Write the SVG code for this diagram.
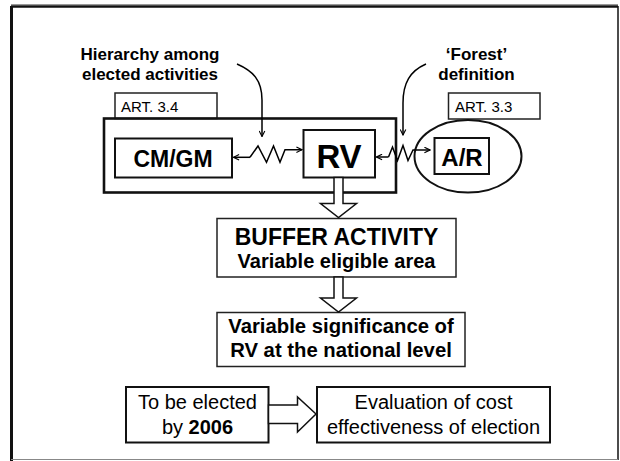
<svg xmlns="http://www.w3.org/2000/svg" width="620" height="461" viewBox="0 0 620 461">
  <defs>
    <style>
      text { font-family: "Liberation Sans", Arial, sans-serif; fill: #000; }
      .b { font-weight: bold; }
      .box { fill: #fff; stroke: #111; stroke-width: 2; }
      .thin { fill: #fff; stroke: #222; stroke-width: 1.5; }
      .wire { fill: none; stroke: #000; stroke-width: 1.5; }
      .hollow { fill: #fff; stroke: #111; stroke-width: 1.5; stroke-linejoin: miter; }
    </style>
    <marker id="tip" viewBox="0 0 10 10" refX="9" refY="5" markerWidth="7" markerHeight="7" markerUnits="userSpaceOnUse" orient="auto-start-reverse">
      <path d="M1,1 L9,5 L1,9" fill="none" stroke="#000" stroke-width="1.6"/>
    </marker>
  </defs>

  <!-- page frame -->
  <rect x="0" y="0" width="620" height="461" fill="#fff"/>
  <line x1="11" y1="4.5" x2="618" y2="4.5" stroke="#999" stroke-width="1"/>
  <line x1="11" y1="6.5" x2="618" y2="6.5" stroke="#111" stroke-width="2.5"/>
  <line x1="11.5" y1="6" x2="11.5" y2="461" stroke="#111" stroke-width="3"/>
  <line x1="618" y1="6" x2="618" y2="460" stroke="#111" stroke-width="1.5"/>
  <line x1="11" y1="459.5" x2="618" y2="459.5" stroke="#888" stroke-width="1.2"/>

  <!-- annotations -->
  <g id="note-hierarchy">
    <text class="b" x="150" y="60" font-size="17" text-anchor="middle">Hierarchy among</text>
    <text class="b" x="150" y="80" font-size="17" text-anchor="middle">elected activities</text>
  </g>
  <g id="note-forest">
    <text class="b" x="476.5" y="60" font-size="17" text-anchor="middle">‘Forest’</text>
    <text class="b" x="476.5" y="80" font-size="17" text-anchor="middle">definition</text>
  </g>

  <!-- Article 3.4 group -->
  <g id="art34">
    <rect class="thin" x="115" y="93" width="102" height="25.5"/>
    <text x="121" y="112" font-size="15">ART. 3.4</text>
    <rect x="104" y="118.5" width="292" height="74" fill="none" stroke="#111" stroke-width="2.6"/>
  </g>

  <!-- Article 3.3 group -->
  <g id="art33">
    <rect class="thin" x="448.5" y="93" width="91.5" height="26"/>
    <text x="455" y="112" font-size="15">ART. 3.3</text>
    <ellipse cx="468" cy="156.3" rx="53.5" ry="36.3" fill="none" stroke="#111" stroke-width="2"/>
  </g>

  <g id="cmgm">
    <rect class="box" x="115" y="138.5" width="117" height="39"/>
    <text class="b" x="173" y="166.5" font-size="23" text-anchor="middle">CM/GM</text>
  </g>

  <g id="rv">
    <rect class="box" x="303.5" y="130" width="71.5" height="47.5"/>
    <text class="b" x="339" y="167.5" font-size="33" text-anchor="middle">RV</text>
  </g>

  <g id="ar">
    <rect class="box" x="434.5" y="138" width="54.5" height="36"/>
    <text class="b" x="462" y="165.5" font-size="24" text-anchor="middle">A/R</text>
  </g>

  <g id="buffer">
    <rect class="thin" x="217" y="218.5" width="239" height="58.5"/>
    <text class="b" x="336.5" y="245" font-size="23" text-anchor="middle">BUFFER ACTIVITY</text>
    <text class="b" x="336.5" y="267.5" font-size="20" text-anchor="middle">Variable eligible area</text>
  </g>

  <g id="significance">
    <rect class="thin" x="217" y="312.5" width="248" height="54"/>
    <text class="b" x="341" y="333" font-size="20.3" text-anchor="middle">Variable significance of</text>
    <text class="b" x="341" y="357" font-size="20.3" text-anchor="middle">RV at the national level</text>
  </g>

  <g id="deadline">
    <rect class="box" x="126" y="387" width="142.5" height="55.5"/>
    <text x="197.5" y="409" font-size="20" text-anchor="middle">To be elected</text>
    <text x="197.5" y="434" font-size="20" text-anchor="middle">by <tspan class="b">2006</tspan></text>
  </g>

  <g id="evaluation">
    <rect class="box" x="317" y="387" width="233" height="55.5"/>
    <text x="433.5" y="409" font-size="20" text-anchor="middle">Evaluation of cost</text>
    <text x="433.5" y="434" font-size="20" text-anchor="middle">effectiveness of election</text>
  </g>

  <!-- connectors -->
  <g id="connectors">
    <!-- spring links between activities -->
    <polyline class="wire" points="250,157.3 258,146 266.5,162.3 273.5,146 280,162.3 285,149.7 302,149.7" marker-end="url(#tip)"/>
    <line class="wire" x1="250" y1="157.3" x2="233.5" y2="157.3" marker-end="url(#tip)"/>
    <polyline class="wire" points="388.5,157 392.5,147 397.5,160.5 403,145.5 408,160.5 413,150 430,150" marker-end="url(#tip)"/>
    <line class="wire" x1="388.5" y1="157" x2="376.5" y2="157" marker-end="url(#tip)"/>

    <!-- influence arrows from annotations -->
    <path class="wire" d="M237,64 C253,71 262,80 262,100 L262,136.5" marker-end="url(#tip)"/>
    <path class="wire" d="M426,64 C410,71 403,83 403,103 L403,135" marker-end="url(#tip)"/>

    <!-- hollow block arrows -->
    <polygon class="hollow" points="334,177.5 343,177.5 343,203.5 356.5,203.5 338.5,217.5 320.5,203.5 334,203.5"/>
    <polygon class="hollow" points="334,277 343,277 343,298 356.5,298 338.5,312 320.5,298 334,298"/>
    <polygon class="hollow" points="268.5,405 297.5,405 297.5,397 316,414 297.5,432 297.5,423.5 268.5,423.5"/>
  </g>
</svg>
